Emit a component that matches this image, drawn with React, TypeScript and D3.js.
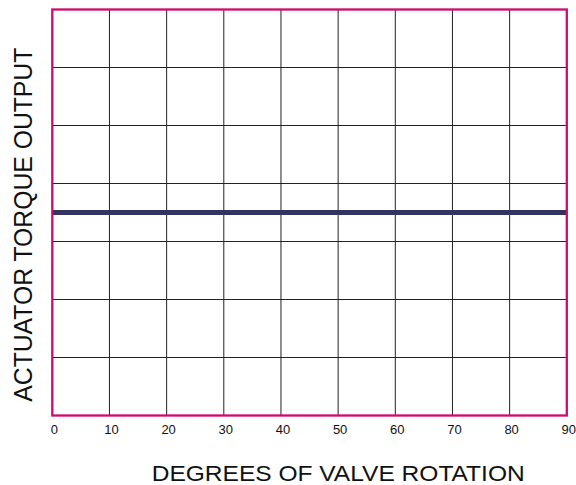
import React, { useEffect, useRef } from "react";
import * as d3 from "d3";

// degrees of valve rotation (x) and torque output (y, arbitrary units)
const xTicks = [0, 10, 20, 30, 40, 50, 60, 70, 80, 90];
const yGrid = [0, 1, 2, 3, 4, 5, 6, 7];
const rotation = [0, 90];
const torque = [3.5, 3.5];

const xTitle = "DEGREES OF VALVE ROTATION";
const yTitle = "ACTUATOR TORQUE OUTPUT";

const size = { width: 576, height: 485 };
const margin = { top: 9.5, right: 9.2, bottom: 69.5, left: 52.3 };

export default function App() {
  const ref = useRef<SVGSVGElement>(null);

  useEffect(() => {
    const svg = d3.select(ref.current);
    svg.selectAll("*").remove();

    const innerW = size.width - margin.left - margin.right;
    const innerH = size.height - margin.top - margin.bottom;

    const x = d3.scaleLinear().domain([0, 90]).range([0, innerW]);
    const y = d3.scaleLinear().domain([0, 7]).range([innerH, 0]);

    const g = svg.append("g")
      .attr("transform", "translate(" + margin.left + "," + margin.top + ")");

    // grid
    g.selectAll("line.vgrid")
      .data(xTicks.slice(1, -1))
      .enter().append("line")
      .attr("class", "vgrid")
      .attr("x1", (d) => x(d)).attr("x2", (d) => x(d))
      .attr("y1", 0).attr("y2", innerH)
      .style("stroke", "#222")
      .style("stroke-width", 1);

    g.selectAll("line.hgrid")
      .data(yGrid.slice(1, -1))
      .enter().append("line")
      .attr("class", "hgrid")
      .attr("x1", 0).attr("x2", innerW)
      .attr("y1", (d) => y(d)).attr("y2", (d) => y(d))
      .style("stroke", "#222")
      .style("stroke-width", 1);

    // torque line
    const line = d3.line<number>()
      .x((d, i) => x(rotation[i]))
      .y((d) => y(d));

    g.append("path")
      .datum(torque)
      .attr("d", line)
      .style("fill", "none")
      .style("stroke", "#33335f")
      .style("stroke-width", 5);

    // frame
    g.append("rect")
      .attr("x", 0).attr("y", 0)
      .attr("width", innerW).attr("height", innerH)
      .style("fill", "none")
      .style("stroke", "#cf0a6e")
      .style("stroke-width", 2.3);

    // tick labels
    g.selectAll("text.xtick")
      .data(xTicks)
      .enter().append("text")
      .attr("class", "xtick")
      .attr("x", (d) => x(d) + 2)
      .attr("y", innerH + 18)
      .attr("text-anchor", "middle")
      .style("font", "13px 'Liberation Sans', Arial, sans-serif")
      .style("fill", "#111")
      .text((d) => d);

    // axis titles
    svg.append("text")
      .attr("x", 151.7)
      .attr("y", 480.5)
      .attr("textLength", 373)
      .attr("lengthAdjust", "spacingAndGlyphs")
      .style("font", "22px 'Liberation Sans', Arial, sans-serif")
      .style("fill", "#111")
      .text(xTitle);

    svg.append("text")
      .attr("transform", "translate(31.7,401.7) rotate(-90)")
      .attr("textLength", 354)
      .attr("lengthAdjust", "spacingAndGlyphs")
      .style("font", "25px 'Liberation Sans', Arial, sans-serif")
      .style("fill", "#111")
      .text(yTitle);
  }, []);

  return (
    <svg
      ref={ref}
      width={size.width}
      height={size.height}
      style={{ position: "absolute", left: 0, top: 0, background: "#fff" }}
    />
  );
}
